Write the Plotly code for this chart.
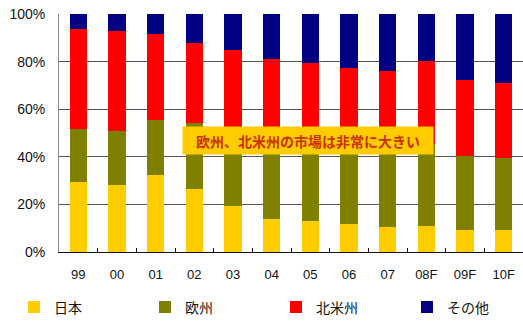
import plotly.graph_objects as go

# Years (F = forecast)
years = ["99", "00", "01", "02", "03", "04", "05", "06", "07", "08F", "09F", "10F"]

# Market share by region, % of total
japan = [29.5, 28.2, 32.5, 26.5, 19.3, 13.9, 13.0, 11.8, 10.5, 10.9, 9.2, 9.2]
europe = [22.3, 22.6, 23.1, 27.7, 31.7, 35.1, 34.0, 34.2, 35.5, 34.5, 31.1, 30.3]
north_america = [41.9, 42.1, 36.1, 33.7, 34.0, 32.2, 32.5, 31.4, 30.2, 34.9, 32.0, 31.5]
other = [6.3, 7.1, 8.3, 12.1, 15.0, 18.8, 20.5, 22.6, 23.8, 19.7, 27.7, 29.0]

series = [
    ("日本", japan, "#FFCC00"),
    ("欧州", europe, "#808000"),
    ("北米州", north_america, "#FF0000"),
    ("その他", other, "#000080"),
]

y_ticks = [0, 20, 40, 60, 80, 100]
y_tick_text = [f"{v}%" for v in y_ticks]

callout = "欧州、北米州の市場は非常に大きい"

FONT = "Liberation Sans, Arial, Noto Sans CJK JP, sans-serif"
CJK = "Noto Sans CJK JP, sans-serif"

fig = go.Figure()
for name, vals, color in series:
    fig.add_trace(go.Bar(
        x=years, y=vals, name=name,
        marker=dict(color=color, line=dict(width=0)),
    ))

W, H = 523, 322
ML, MR, MT, MB = 59, 0, 14, 70
plot_w = W - ML - MR
plot_h = H - MT - MB

fig.update_layout(
    width=W, height=H,
    margin=dict(l=ML, r=MR, t=MT, b=MB, pad=0, autoexpand=False),
    barmode="stack",
    bargap=0.56,
    plot_bgcolor="white",
    paper_bgcolor="white",
    font=dict(family=FONT, size=13, color="#111111"),
    showlegend=True,
    legend=dict(
        orientation="h",
        x=(14 - ML) / plot_w, xanchor="left",
        y=(MT + plot_h - 307.5) / plot_h, yanchor="middle",
        entrywidth=86, entrywidthmode="pixels",
        traceorder="normal",
        font=dict(family=CJK, size=14, color="#111111"),
        bgcolor="rgba(0,0,0,0)",
        borderwidth=0,
        itemclick=False,
    ),
)

fig.update_xaxes(
    type="category",
    categoryorder="array", categoryarray=years,
    showline=True, linecolor="#111111", linewidth=1,
    ticks="inside", ticklen=4, tickcolor="#111111", tickwidth=1,
    tickson="boundaries",
    showgrid=False,
    ticklabelstandoff=10,
    tickfont=dict(family=FONT, size=13, color="#111111"),
)

fig.update_yaxes(
    range=[0, 100],
    tickvals=y_ticks, ticktext=y_tick_text,
    showline=True, linecolor="#8a8a8a", linewidth=1,
    showgrid=True, gridcolor="#555555", gridwidth=1,
    ticks="", ticklabelstandoff=10,
    zeroline=False,
    tickfont=dict(family=FONT, size=14, color="#111111"),
)

fig.add_annotation(
    xref="paper", yref="y",
    x=(308 - ML) / plot_w, y=(MT + plot_h - 140) / plot_h * 100,
    text=f"<b>{callout}</b>",
    showarrow=False,
    font=dict(family=CJK, size=14, color="#CC3300"),
    bgcolor="#FFCC00",
    width=242, height=19, borderpad=4,
    xanchor="center", yanchor="middle",
)

fig.write_html("out.html")
